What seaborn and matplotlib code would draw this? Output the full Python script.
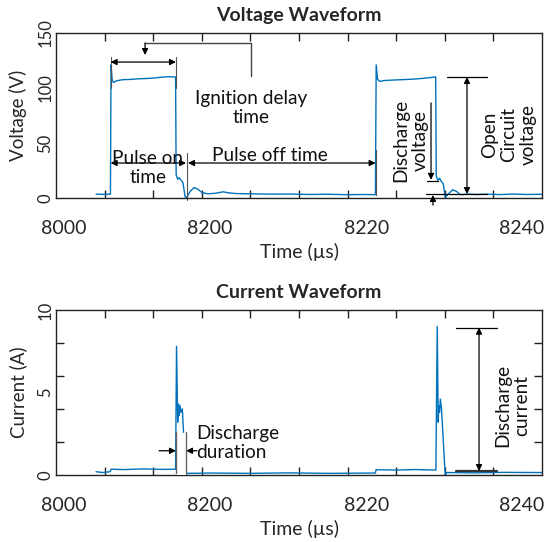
import pandas as pd
import seaborn as sns
import matplotlib.pyplot as plt
from matplotlib.patches import Rectangle

# scope traces (time in us)
v_time = [8020.6, 8024.0, 8028.0, 8028.3, 8028.9, 8029.6, 8031.0, 8034.0, 8038.0,
          8042.0, 8046.0, 8050.0, 8054.0, 8058.0, 8061.5, 8061.8, 8062.6, 8063.4,
          8064.2, 8065.3, 8066.4, 8067.2, 8069.0, 8071.0, 8073.0, 8075.0, 8078.0,
          8082.0, 8086.0, 8089.0, 8093.0, 8100.0, 8110.0, 8120.0, 8130.0, 8140.0,
          8150.0, 8158.0, 8164.3, 8164.7, 8165.4, 8166.5, 8169.0, 8173.0, 8177.0,
          8181.0, 8185.0, 8189.0, 8193.0, 8195.3, 8195.6, 8196.4, 8197.3, 8198.2,
          8199.2, 8200.2, 8202.0, 8204.0, 8206.0, 8208.0, 8212.0, 8216.0, 8222.0,
          8228.0, 8235.0, 8242.0, 8250.0]
v_volt = [3.5, 3.3, 3.5, 121.0, 107.0, 105.0, 106.5, 107.5, 107.8,
          108.3, 108.6, 109.0, 109.8, 110.3, 110.0, 21.0, 17.0, 18.5,
          16.5, 14.0, 1.0, 0.5, 6.0, 9.5, 8.0, 5.0, 3.8,
          4.3, 5.6, 4.6, 4.0, 3.8, 3.5, 3.6, 3.2, 3.4,
          3.0, 3.2, 3.0, 121.0, 108.0, 106.0, 106.8, 107.2, 107.5,
          107.8, 108.2, 108.8, 109.6, 110.0, 20.0, 16.0, 18.0, 15.0,
          13.0, 0.5, 4.0, 7.5, 6.0, 3.0, 3.6, 3.2, 3.5,
          3.1, 3.6, 3.2, 3.4]

i_time = [8020.6, 8024.0, 8027.8, 8028.3, 8035.0, 8045.0, 8055.0, 8061.5, 8062.0,
          8062.6, 8063.0, 8063.4, 8063.8, 8064.3, 8065.0, 8066.7, 8067.5, 8080.0,
          8100.0, 8120.0, 8140.0, 8164.3, 8164.6, 8175.0, 8185.0, 8195.4, 8196.1,
          8196.6, 8196.9, 8197.3, 8197.7, 8198.3, 8200.2, 8201.0, 8215.0, 8230.0,
          8250.0]
i_amp = [0.2, 0.15, 0.2, 0.35, 0.33, 0.37, 0.34, 0.35, 7.8,
         3.2, 4.3, 3.6, 4.2, 3.8, 4.0, 0.0, 0.1, 0.12,
         0.1, 0.13, 0.1, 0.12, 0.32, 0.3, 0.33, 0.3, 9.0,
         3.2, 4.2, 3.8, 4.6, 4.0, 0.0, 0.15, 0.13, 0.16,
         0.15]

x_tick_pos = [8004.1, 8079.2, 8160.0, 8239.7]
x_tick_labels = ['8000', '8200', '8220', '8240']
x_minor = [8025, 8050, 8075, 8100, 8125, 8150, 8175, 8200, 8225]
v_ticks = [0, 50, 100, 150]
i_ticks = [0, 5, 10]
i_minor = [2, 4, 6, 8]

sns.set_style('white')
plt.rcParams['font.family'] = ['Lato', 'DejaVu Sans']

volt = pd.DataFrame({'t': v_time, 'v': v_volt})
curr = pd.DataFrame({'t': i_time, 'i': i_amp})

fig = plt.figure(figsize=(5.47, 5.42), dpi=100)
ax1 = fig.add_axes([0.1024, 0.6347, 0.8885, 0.3044])
ax2 = fig.add_axes([0.1024, 0.1236, 0.8885, 0.3044])

blue = '#0072BD'
sns.lineplot(data=volt, x='t', y='v', ax=ax1, color=blue, lw=1.0, sort=False, estimator=None)
sns.lineplot(data=curr, x='t', y='i', ax=ax2, color=blue, lw=1.0, sort=False, estimator=None)


def style_axes(ax, yticks, yminor, ylim, ylabel, title, right_only=False):
    ax.set_xlim(8000, 8250)
    ax.set_ylim(*ylim)
    for s in ax.spines.values():
        s.set_color('#222222')
        s.set_linewidth(1.0)
    ax.set_xticks(x_tick_pos)
    ax.set_xticklabels(x_tick_labels, fontsize=14)
    ax.set_xticks(x_minor, minor=True)
    ax.set_yticks(yticks)
    ax.set_yticklabels([str(y) for y in yticks], fontsize=12, rotation=90, va='center')
    ax.set_yticks(yminor, minor=True)
    ax.tick_params(which='major', length=0)
    ax.tick_params(axis='x', which='major', pad=16)
    ax.tick_params(axis='y', which='major', pad=2)
    ax.tick_params(which='minor', direction='in', length=6, width=1.0, color='#222222',
                   top=True, bottom=True)
    ax.tick_params(axis='y', which='minor', left=not right_only, right=True)
    ax.set_xlabel('Time (µs)', fontsize=14, labelpad=4)
    ax.set_ylabel(ylabel, fontsize=13.5, labelpad=0)
    ax.yaxis.set_label_coords(-0.06, 0.5)
    ax.set_title(title, fontsize=14, fontweight='bold', pad=9)


style_axes(ax1, v_ticks, [100], (0, 150), 'Voltage (V)', 'Voltage Waveform', right_only=True)
style_axes(ax2, i_ticks, i_minor, (0, 10), 'Current (A)', 'Current Waveform')

arrow_kw = dict(arrowstyle='<|-|>', color='black', lw=0.9, shrinkA=0, shrinkB=0, mutation_scale=9)
one_kw = dict(arrowstyle='-|>', color='black', lw=0.9, shrinkA=0, shrinkB=0, mutation_scale=9)
txt_kw = dict(fontsize=13.7, color='#111111')

# ---- voltage annotations ----
for x in (8028.1, 8061.7):
    ax1.plot([x, x], [100, 128], color='#555555', lw=0.8)
ax1.annotate('', xy=(8028.1, 123.6), xytext=(8061.7, 123.6), arrowprops=arrow_kw)
ax1.plot([8100.3, 8100.3, 8045.8], [111, 141, 141], color='#444444', lw=1.0)
ax1.annotate('', xy=(8045.8, 130), xytext=(8045.8, 141), arrowprops=one_kw)
ax1.text(8100.3, 82, 'Ignition delay\ntime', ha='center', va='center', linespacing=1.15, **txt_kw)

ax1.annotate('', xy=(8028.1, 31.8), xytext=(8066.9, 31.8), arrowprops=arrow_kw)
ax1.text(8047.3, 27, 'Pulse on\ntime', ha='center', va='center', linespacing=1.15, **txt_kw)
ax1.plot([8067.6, 8067.6], [-2, 41], color='#555555', lw=0.8, clip_on=False)
ax1.plot([8164.6, 8164.6], [3, 43.6], color='#555555', lw=0.8)
ax1.annotate('', xy=(8067.9, 31.8), xytext=(8164.4, 31.8), arrowprops=arrow_kw)
ax1.text(8110, 39, 'Pulse off time', ha='center', va='center', **txt_kw)

ax1.text(8182.5, 52.7, 'Discharge\nvoltage', ha='center', va='center', rotation=90,
         linespacing=1.15, **txt_kw)
ax1.annotate('', xy=(8192.9, 16.5), xytext=(8192.9, 86.4), arrowprops=one_kw)
ax1.plot([8190.8, 8196.5], [15.5, 15.5], color='black', lw=0.9)
ax1.plot([8190.3, 8221.7], [3.6, 3.6], color='black', lw=0.9)
ax1.annotate('', xy=(8193.9, 2.7), xytext=(8193.9, -6.4), arrowprops=one_kw,
             annotation_clip=False)
ax1.plot([8201.1, 8221.7], [110, 110], color='black', lw=0.9)
ax1.annotate('', xy=(8211.4, 110), xytext=(8211.4, 3.6), arrowprops=arrow_kw)
ax1.text(8233.0, 57.3, 'Open\nCircuit\nvoltage', ha='center', va='center', rotation=90,
         linespacing=1.15, clip_on=False, **txt_kw)

# ---- current annotations ----
ax2.add_patch(Rectangle((8062.2, 0.05), 4.2, 2.5, color='white', zorder=3))
for x in (8061.7, 8066.9):
    ax2.plot([x, x], [0.1, 2.6], color='#666666', lw=1.0, zorder=4)
ax2.annotate('', xy=(8061.7, 1.47), xytext=(8053.0, 1.47), arrowprops=one_kw)
ax2.annotate('', xy=(8066.9, 1.47), xytext=(8072.5, 1.47), arrowprops=one_kw)
ax2.text(8072.0, 1.94, 'Discharge\nduration', ha='left', va='center', linespacing=1.15, **txt_kw)
ax2.plot([8205.8, 8226.9], [8.93, 8.93], color='black', lw=0.9)
ax2.plot([8205.8, 8226.9], [0.24, 0.24], color='#333333', lw=1.6)
ax2.annotate('', xy=(8217.6, 8.93), xytext=(8217.6, 0.24), arrowprops=arrow_kw)
ax2.text(8234.8, 4.24, 'Discharge\ncurrent', ha='center', va='center', rotation=90,
         linespacing=1.15, **txt_kw)

fig.savefig('out.png', dpi=100)
